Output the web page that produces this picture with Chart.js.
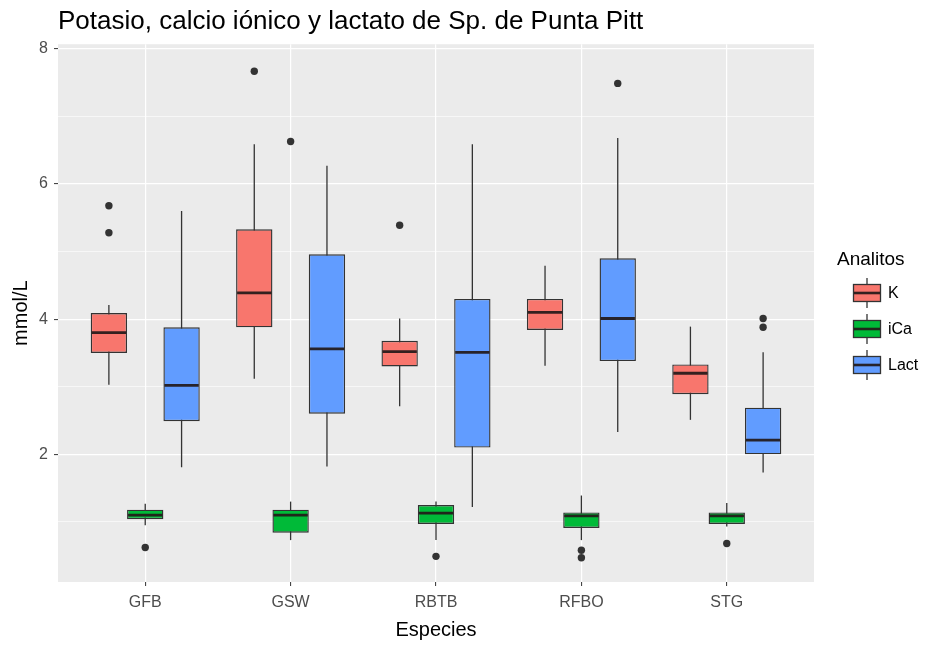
<!DOCTYPE html>
<html>
<head>
<meta charset="utf-8">
<script src="https://cdn.jsdelivr.net/npm/chart.js@4/dist/chart.umd.min.js"></script>
<style>
  html, body { margin: 0; padding: 0; background: #fff; }
  #wrap { width: 928px; height: 650px; }
</style>
</head>
<body>
<div id="wrap"><canvas id="chart" width="928" height="650"></canvas></div>
<script>
const species = ['GFB', 'GSW', 'RBTB', 'RFBO', 'STG'];
const analytes = ['K', 'iCa', 'Lact'];
const fills = ['#F8766D', '#00BA38', '#619CFF'];
const yTicks = [1, 2, 3, 4, 5, 6, 7, 8];

// Potasio (K)
const kLow  = [3.03, 3.12, 2.71, 3.31, 2.51];
const kQ1   = [3.50, 3.88, 3.30, 3.84, 2.89];
const kMed  = [3.80, 4.39, 3.52, 4.10, 3.20];
const kQ3   = [4.09, 5.33, 3.68, 4.30, 3.33];
const kHigh = [4.21, 6.59, 4.01, 4.79, 3.89];
const kOut  = [[5.68, 5.28], [7.67], [5.39], [], []];

// Calcio iónico (iCa)
const caLow  = [0.95, 0.73, 0.73, 0.73, 0.93];
const caQ1   = [1.04, 0.84, 0.97, 0.91, 0.97];
const caMed  = [1.10, 1.10, 1.13, 1.09, 1.09];
const caQ3   = [1.18, 1.18, 1.25, 1.14, 1.14];
const caHigh = [1.27, 1.30, 1.30, 1.39, 1.28];
const caOut  = [[0.62], [6.63], [0.49], [0.58, 0.47], [0.68]];

// Lactato (Lact)
const lacLow  = [1.81, 1.82, 1.22, 2.33, 1.73];
const lacQ1   = [2.49, 2.60, 2.10, 3.38, 2.00];
const lacMed  = [3.02, 3.56, 3.51, 4.01, 2.21];
const lacQ3   = [3.88, 4.96, 4.30, 4.90, 2.69];
const lacHigh = [5.60, 6.27, 6.59, 6.68, 3.51];
const lacOut  = [[], [], [], [7.49], [4.01, 3.88]];

const stats = [
  { low: kLow, q1: kQ1, med: kMed, q3: kQ3, high: kHigh, out: kOut },
  { low: caLow, q1: caQ1, med: caMed, q3: caQ3, high: caHigh, out: caOut },
  { low: lacLow, q1: lacQ1, med: lacMed, q3: lacQ3, high: lacHigh, out: lacOut }
];

const FONT = "'Liberation Sans', Arial, sans-serif";
const INK = '#333333';
const MEDIAN = 'rgba(35,25,25,0.92)';

// boxes are floating bars q1..q3, the rest is drawn on the bar positions
const boxParts = {
  id: 'boxParts',
  beforeDraw(chart) {
    const { ctx, chartArea: a } = chart;
    ctx.save();
    ctx.fillStyle = '#EBEBEB';
    ctx.fillRect(a.left, a.top, a.right - a.left, a.bottom - a.top);
    ctx.restore();
  },
  beforeDatasetsDraw(chart) {
    const { ctx } = chart;
    const y = chart.scales.y;
    ctx.save();
    ctx.strokeStyle = INK;
    ctx.lineWidth = 1.3;
    stats.forEach((s, d) => {
      chart.getDatasetMeta(d).data.forEach((bar, i) => {
        ctx.beginPath();
        ctx.moveTo(bar.x, y.getPixelForValue(s.high[i]));
        ctx.lineTo(bar.x, y.getPixelForValue(s.low[i]));
        ctx.stroke();
      });
    });
    ctx.restore();
  },
  afterDatasetsDraw(chart) {
    const { ctx } = chart;
    const y = chart.scales.y;
    ctx.save();
    stats.forEach((s, d) => {
      chart.getDatasetMeta(d).data.forEach((bar, i) => {
        const half = bar.width / 2;
        const ym = y.getPixelForValue(s.med[i]);
        ctx.strokeStyle = MEDIAN;
        ctx.lineWidth = 2.8;
        ctx.beginPath();
        ctx.moveTo(bar.x - half + 1, ym);
        ctx.lineTo(bar.x + half - 1, ym);
        ctx.stroke();
        ctx.fillStyle = INK;
        s.out[i].forEach(v => {
          ctx.beginPath();
          ctx.arc(bar.x, y.getPixelForValue(v), 3.7, 0, Math.PI * 2);
          ctx.fill();
        });
      });
    });
    ctx.restore();
  },
  afterDraw(chart) {
    const { ctx } = chart;
    ctx.save();
    ctx.fillStyle = '#000';
    ctx.font = '19px ' + FONT;
    ctx.textBaseline = 'middle';
    ctx.textAlign = 'left';
    ctx.fillText('Analitos', 837, 260);
    analytes.forEach((name, k) => {
      const cy = 293 + k * 36;
      const cx = 867;
      ctx.strokeStyle = INK;
      ctx.lineWidth = 1.3;
      ctx.beginPath();
      ctx.moveTo(cx, cy - 15);
      ctx.lineTo(cx, cy + 15);
      ctx.stroke();
      ctx.fillStyle = fills[k];
      ctx.fillRect(853, cy - 9, 28, 18);
      ctx.strokeRect(853.5, cy - 8.5, 27, 17);
      ctx.lineWidth = 2.6;
      ctx.strokeStyle = MEDIAN;
      ctx.beginPath();
      ctx.moveTo(854, cy);
      ctx.lineTo(880, cy);
      ctx.stroke();
      ctx.fillStyle = '#000';
      ctx.font = '16px ' + FONT;
      ctx.fillText(name, 888, cy + 1);
    });
    ctx.restore();
  }
};

const datasets = stats.map((s, d) => ({
  label: analytes[d],
  data: species.map((sp, i) => ({ x: i, y: [s.q1[i], s.q3[i]] })),
  backgroundColor: fills[d],
  borderColor: INK,
  borderWidth: 1.4,
  borderSkipped: false,
  categoryPercentage: 0.75,
  barPercentage: 1.0
}));

new Chart(document.getElementById('chart'), {
  type: 'bar',
  data: { datasets },
  options: {
    responsive: false,
    devicePixelRatio: 1,
    animation: false,
    layout: { padding: { top: 0, right: 114, bottom: 0, left: 0 } },
    plugins: {
      legend: { display: false },
      tooltip: { enabled: false },
      title: {
        display: true,
        text: 'Potasio, calcio iónico y lactato de Sp. de Punta Pitt',
        align: 'start',
        fullSize: false,
        color: '#000',
        font: { family: FONT, size: 26, weight: 'normal' },
        padding: { top: 6, bottom: 7 }
      }
    },
    scales: {
      x: {
        type: 'linear',
        min: -0.6,
        max: 4.6,
        offset: false,
        afterBuildTicks: axis => { axis.ticks = species.map((s, i) => ({ value: i })); },
        afterFit: scale => { scale.height = 68; },
        ticks: {
          callback: v => species[v],
          color: '#4D4D4D',
          font: { family: FONT, size: 16 },
          padding: 7,
          maxRotation: 0
        },
        grid: { offset: false, color: '#FFFFFF', lineWidth: 1.2, tickColor: INK, tickLength: 4, tickWidth: 1 },
        border: { display: false },
        title: {
          display: true,
          text: 'Especies',
          color: '#000',
          font: { family: FONT, size: 20 },
          padding: { top: 0, bottom: 8 }
        }
      },
      y: {
        min: 0.11,
        max: 8.07,
        afterBuildTicks: axis => { axis.ticks = yTicks.map(v => ({ value: v })); },
        afterFit: scale => { scale.width = 58; },
        ticks: {
          callback: v => (v % 2 === 0 ? String(v) : ''),
          color: '#4D4D4D',
          font: { family: FONT, size: 16 },
          padding: 6
        },
        grid: {
          color: '#FFFFFF',
          lineWidth: c => (c.tick && c.tick.value % 2 === 0 ? 1.2 : 0.6),
          tickColor: c => (c.tick && c.tick.value % 2 === 0 ? INK : 'rgba(0,0,0,0)'),
          tickLength: 4,
          tickWidth: 1
        },
        border: { display: false },
        title: {
          display: true,
          text: 'mmol/L',
          color: '#000',
          font: { family: FONT, size: 20 },
          padding: { top: 9, bottom: 0 }
        }
      }
    }
  },
  plugins: [boxParts]
});
</script>
</body>
</html>
